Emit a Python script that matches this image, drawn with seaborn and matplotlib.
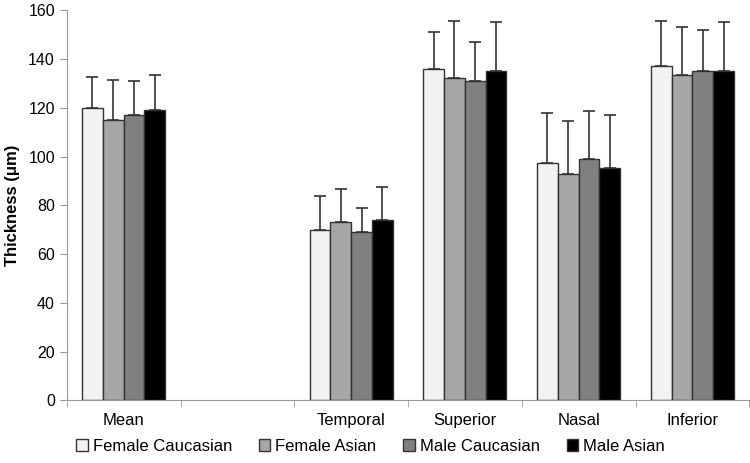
import seaborn as sns
import numpy as np
import pandas as pd
import matplotlib.pyplot as plt

regions = ['Mean', '', 'Temporal', 'Superior', 'Nasal', 'Inferior']
groups = ['Female Caucasian', 'Female Asian', 'Male Caucasian', 'Male Asian']
colors = ['#f2f2f2', '#a6a6a6', '#808080', '#000000']

# mean thickness per group, regions without the blank slot
data_regions = ['Mean', 'Temporal', 'Superior', 'Nasal', 'Inferior']
female_caucasian = [120, 70, 136, 97.5, 137]
female_asian = [115, 73, 132, 93, 133.5]
male_caucasian = [117, 69, 131, 99, 135]
male_asian = [119, 74, 135, 95.5, 135]
# upper end of error bars
fc_top = [132.5, 84, 151, 118, 155.5]
fa_top = [131.5, 86.5, 155.5, 114.5, 153]
mc_top = [131, 79, 147, 118.5, 152]
ma_top = [133.5, 87.5, 155, 117, 151]

means = [female_caucasian, female_asian, male_caucasian, male_asian]
tops = [fc_top, fa_top, mc_top, ma_top]

rows = []
for g, vals, tp in zip(groups, means, tops):
    for r, v, t in zip(data_regions, vals, tp):
        rows.append({'region': r, 'group': g, 'value': v, 'err': t - v})
df = pd.DataFrame(rows)

plt.rcParams['font.family'] = ['Liberation Sans', 'DejaVu Sans']
fig = plt.figure(figsize=(7.5, 4.63), dpi=100)
ax = fig.add_axes([0.089, 0.135, 0.91, 0.843])

sns.barplot(data=df, x='region', y='value', hue='group', order=regions,
            hue_order=groups, palette=colors, width=0.73, edgecolor='#333333',
            linewidth=1, errorbar=None, ax=ax)

# one-sided error bars on each bar
for cont, g in zip(ax.containers, groups):
    sub = df[df.group == g]
    for bar in cont:
        h = bar.get_height()
        if np.isnan(h) or h == 0:
            continue
        x = bar.get_x() + bar.get_width() / 2
        row = sub[sub.value == h].iloc[0]
        ax.errorbar(x, h, yerr=[[0], [row.err]], fmt='none', ecolor='#333333',
                    elinewidth=1.2, capsize=4, capthick=1.2)

ax.set_ylim(0, 160)
ax.set_xlim(-0.5, 5.5)
ax.set_yticks(range(0, 161, 20))
ax.set_ylabel('Thickness (\u03bcm)', fontsize=12, fontweight='bold', labelpad=6)
ax.set_xlabel('')
ax.set_xticks(np.arange(-0.5, 6, 1), minor=True)
ax.tick_params(axis='x', which='major', length=0, pad=9, labelsize=12)
ax.tick_params(axis='x', which='minor', length=5, color='#999999')
ax.tick_params(axis='y', length=5, color='#999999', labelsize=11.5)
for s in ['top', 'right']:
    ax.spines[s].set_visible(False)
for s in ['left', 'bottom']:
    ax.spines[s].set_color('#999999')

ax.legend(loc='upper center', bbox_to_anchor=(0.445, -0.06), ncol=4, frameon=False,
          fontsize=12, handlelength=0.7, handleheight=0.7, handletextpad=0.3,
          columnspacing=1.6)

fig.savefig('out.png', dpi=100)
